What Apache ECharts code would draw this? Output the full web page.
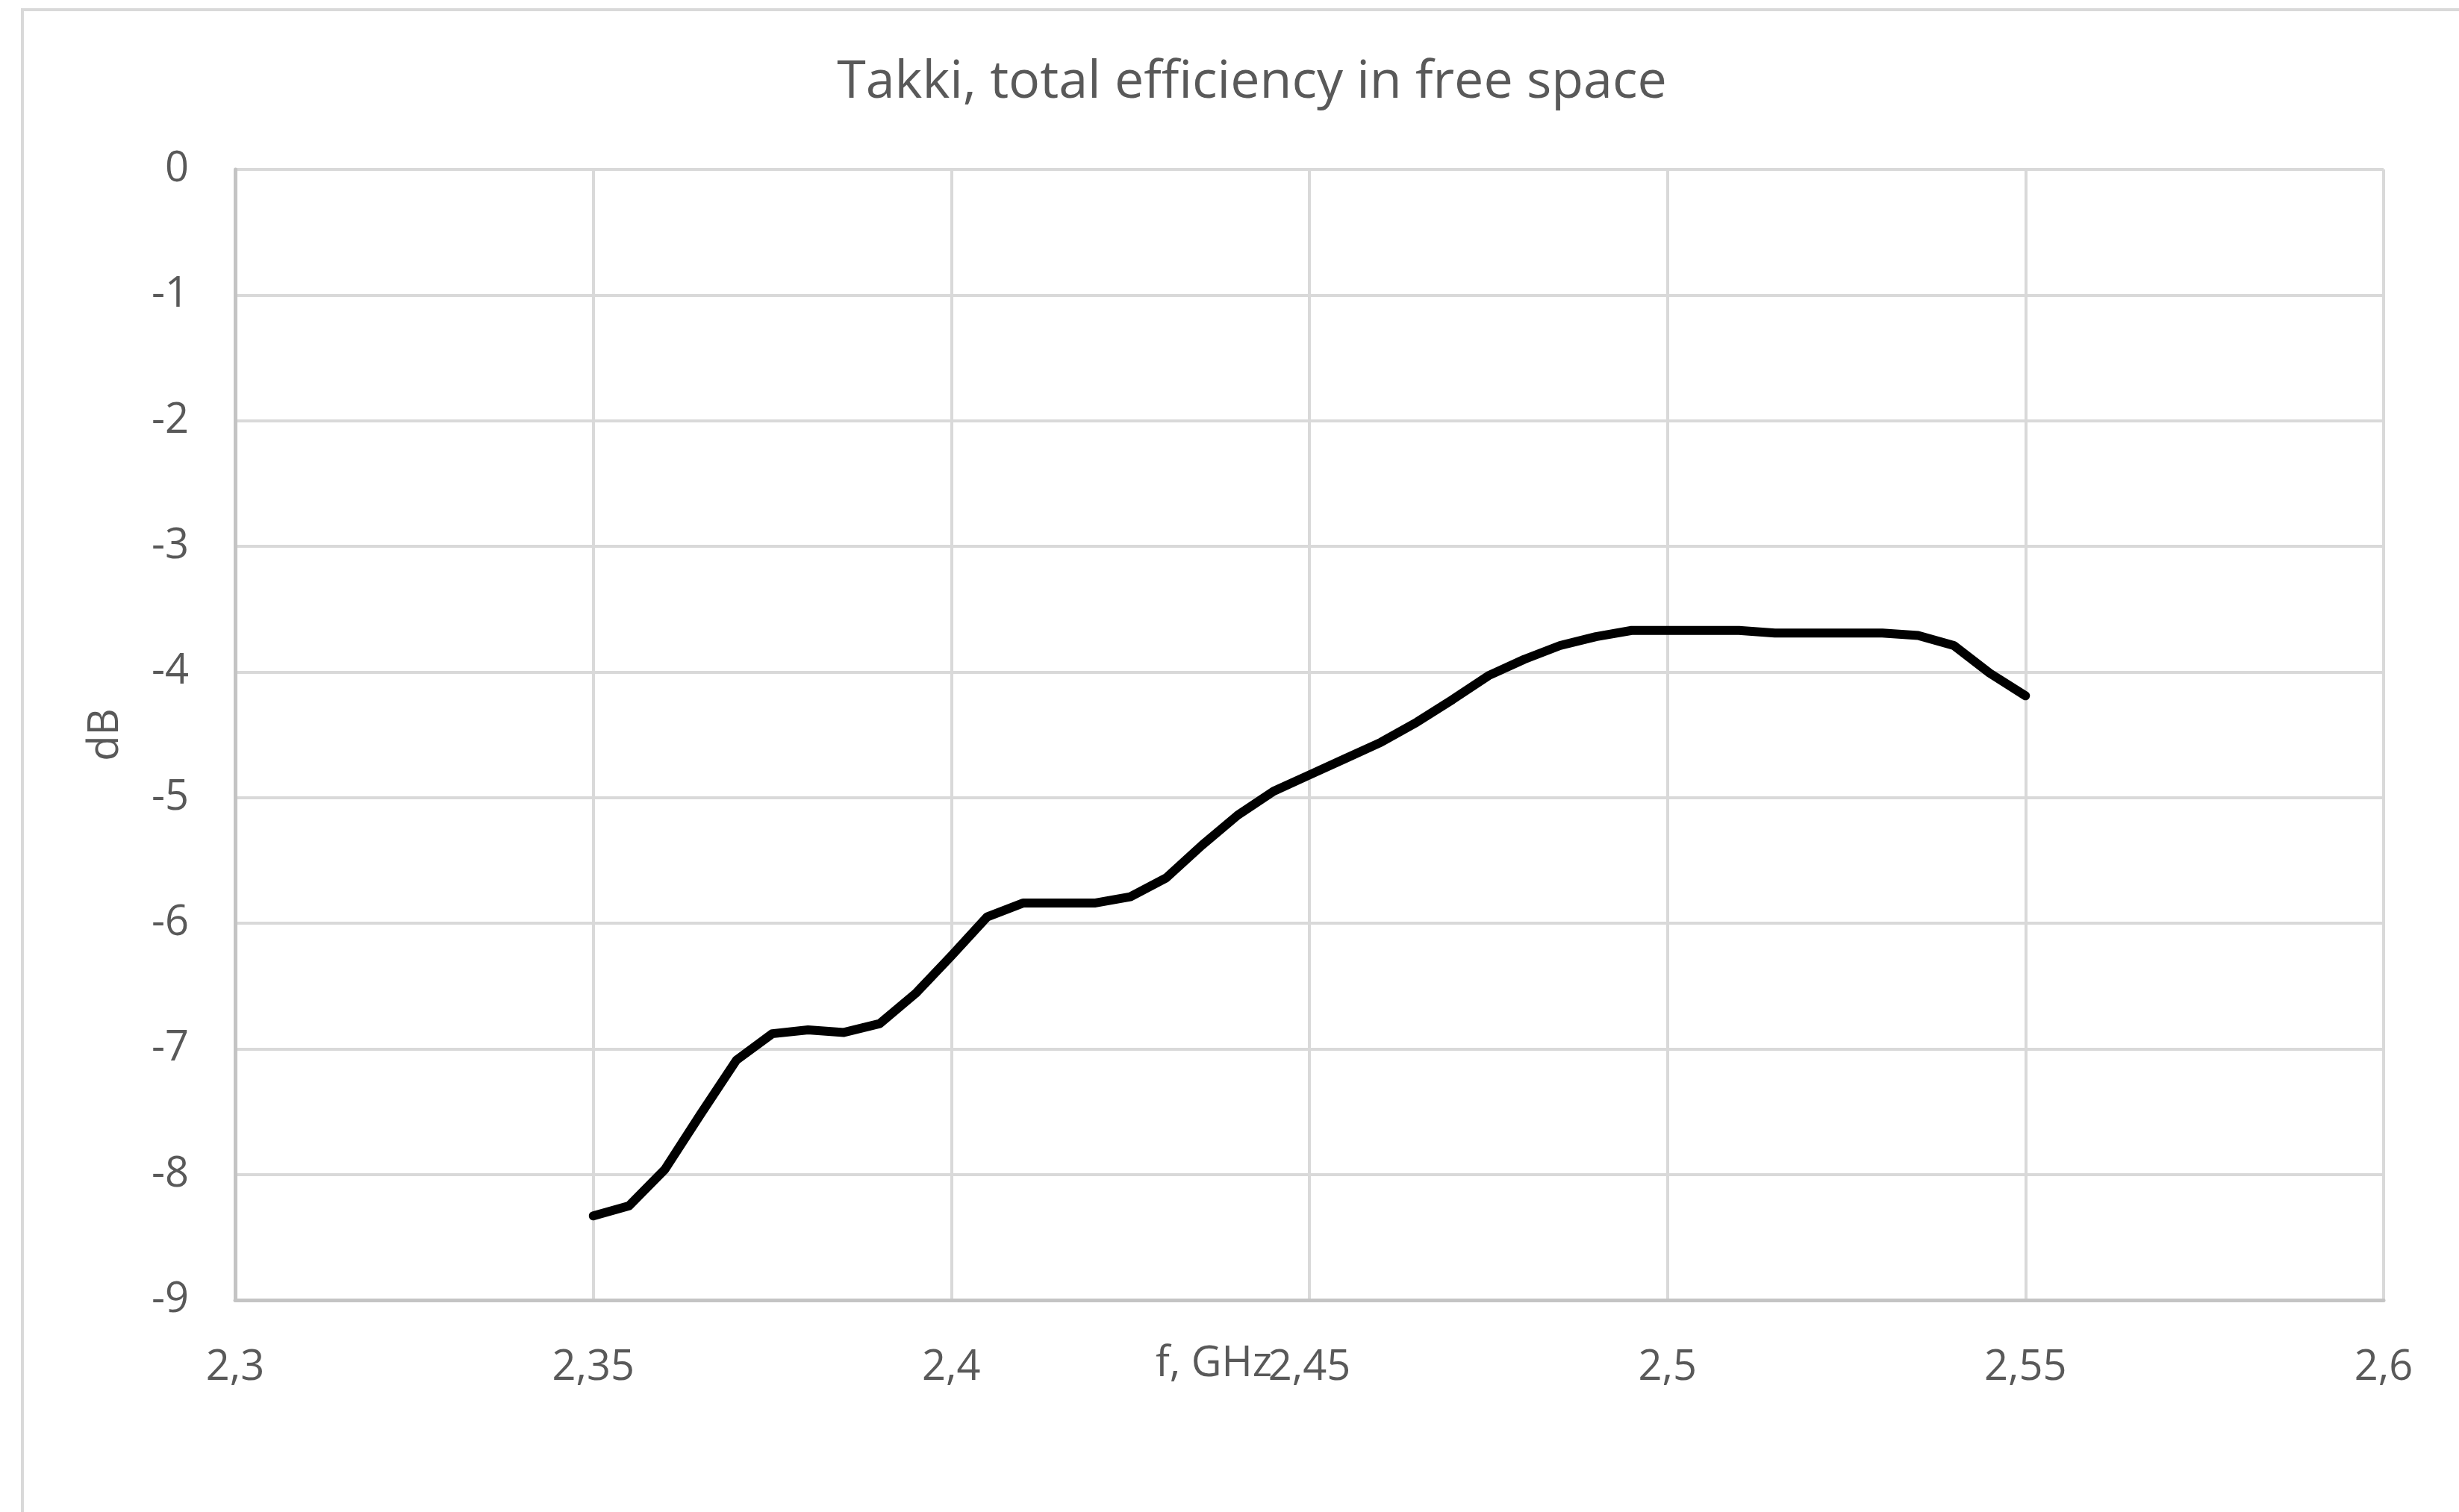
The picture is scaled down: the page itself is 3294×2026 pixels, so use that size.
<!DOCTYPE html>
<html>
<head>
<meta charset="utf-8">
<style>
  html, body { margin: 0; padding: 0; background: #ffffff; }
  #chart { width: 3294px; height: 2026px; }
</style>
<script src="https://cdn.jsdelivr.net/npm/echarts@6/dist/echarts.min.js"></script>
</head>
<body>
<div id="chart"></div>
<script>
// ---- data ----
const chartTitle = "Takki, total efficiency in free space";
const xAxisName = "f, GHz";
const yAxisName = "dB";
const freqGHz = [
  2.350, 2.355, 2.360, 2.365, 2.370, 2.375, 2.380, 2.385, 2.390, 2.395,
  2.400, 2.405, 2.410, 2.415, 2.420, 2.425, 2.430, 2.435, 2.440, 2.445,
  2.450, 2.455, 2.460, 2.465, 2.470, 2.475, 2.480, 2.485, 2.490, 2.495,
  2.500, 2.505, 2.510, 2.515, 2.520, 2.525, 2.530, 2.535, 2.540, 2.545,
  2.550
];
const efficiencyDb = [
  -8.33, -8.25, -7.96, -7.52, -7.09, -6.88, -6.85, -6.87, -6.80, -6.56,
  -6.26, -5.95, -5.84, -5.84, -5.84, -5.79, -5.64, -5.38, -5.14, -4.95,
  -4.82, -4.69, -4.56, -4.40, -4.22, -4.03, -3.90, -3.79, -3.72, -3.67,
  -3.67, -3.67, -3.67, -3.69, -3.69, -3.69, -3.69, -3.71, -3.79, -4.01,
  -4.19
];
const xTicks = { min: 2.3, max: 2.6, step: 0.05 };
const yTicks = { min: -9, max: 0, step: 1 };

// ---- chart ----
const seriesData = freqGHz.map((f, i) => [f, efficiencyDb[i]]);
const FONT = "'Open Sans', 'Noto Sans', sans-serif";
const TEXT = "#595959";

const chart = echarts.init(document.getElementById('chart'), null, { renderer: 'canvas' });
chart.setOption({
  backgroundColor: '#ffffff',
  animation: false,
  title: {
    text: chartTitle,
    left: 1672,
    textAlign: 'center',
    top: 71,
    textStyle: { fontFamily: FONT, fontSize: 70, fontWeight: 'normal', color: TEXT }
  },
  graphic: [{
    type: 'rect',
    silent: true,
    shape: { x: 30, y: 13, width: 4000, height: 4000 },
    style: { fill: 'none', stroke: '#d9d9d9', lineWidth: 4 }
  }],
  grid: { left: 315, right: 101, top: 227, bottom: 284, containLabel: false },
  xAxis: {
    type: 'value',
    min: xTicks.min, max: xTicks.max, interval: xTicks.step,
    name: xAxisName,
    nameLocation: 'middle',
    nameGap: 58,
    nameMoveOverlap: false,
    nameTextStyle: { fontFamily: FONT, fontSize: 56, color: TEXT, padding: [0, 256, 0, 0] },
    axisLine: { show: true, onZero: false, lineStyle: { color: '#c4c4c4', width: 5 } },
    axisTick: { show: false },
    axisLabel: {
      margin: 63, fontFamily: FONT, fontSize: 56, color: TEXT,
      formatter: v => String(+v.toFixed(2)).replace('.', ',')
    },
    splitLine: { show: true, lineStyle: { color: '#d9d9d9', width: 4 } }
  },
  yAxis: {
    type: 'value',
    min: yTicks.min, max: yTicks.max, interval: yTicks.step,
    name: yAxisName,
    nameLocation: 'middle',
    nameGap: 145,
    nameMoveOverlap: false,
    nameTextStyle: { fontFamily: FONT, fontSize: 56, color: TEXT },
    axisLine: { show: true, onZero: false, lineStyle: { color: '#c4c4c4', width: 5 } },
    axisTick: { show: false },
    axisLabel: { margin: 62, fontFamily: FONT, fontSize: 56, color: TEXT },
    splitLine: { show: true, lineStyle: { color: '#d9d9d9', width: 4 } }
  },
  series: [{
    type: 'line',
    data: seriesData,
    showSymbol: false,
    symbol: 'none',
    smooth: false,
    lineStyle: { color: '#000000', width: 12, cap: 'round', join: 'round' }
  }]
});
</script>
</body>
</html>
